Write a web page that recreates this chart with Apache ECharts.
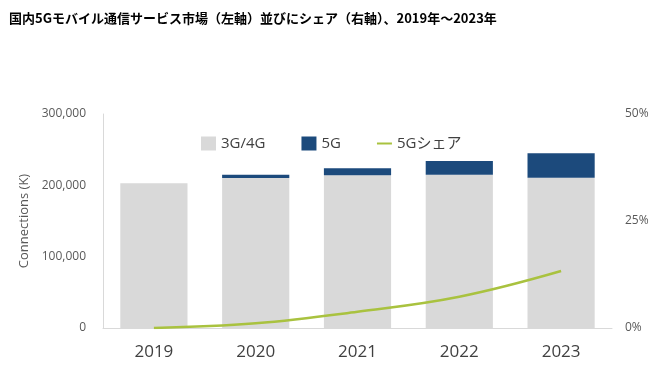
<!DOCTYPE html>
<html><head><meta charset="utf-8">
<script src="https://cdn.jsdelivr.net/npm/echarts@6/dist/echarts.min.js"></script>
<style>html,body{margin:0;padding:0;background:#fff}#c{width:662px;height:390px}</style>
</head><body><div id="c"></div>
<script>
var categories = ['2019','2020','2021','2022','2023'];
var legacy = [203000, 210300, 214000, 214900, 210700];
var fiveG = [0, 4600, 9800, 19200, 34200];
var share = [0, 1.1, 3.8, 7.3, 13.3];
var leftTicks = [0, 100000, 200000, 300000];
var rightTicks = [0, 25, 50];

var chart = echarts.init(document.getElementById('c'));
chart.setOption({
  animation: false,
  title: {
    text: '国内5Gモバイル通信サービス市場（左軸）並びにシェア（右軸）、2019年～2023年',
    left: 4, top: 7,
    textStyle: {fontFamily: 'Noto Sans CJK JP', fontSize: 13, fontWeight: 'bold', color: '#000'}
  },
  legend: {
    top: 131, left: 196, itemGap: 36, itemWidth: 15, itemHeight: 14,
    textStyle: {fontFamily: 'Open Sans, Noto Sans CJK JP', fontSize: 15, color: '#404040'},
    data: [
      {name: '3G/4G', icon: 'rect'},
      {name: '5G', icon: 'rect'},
      {name: '5Gシェア', icon: 'path://M0,0L0,0M0,6L15,6L15,8L0,8ZM15,14L15,14'}
    ]
  },
  grid: {left: 103, right: 50, top: 114, bottom: 62},
  xAxis: {
    type: 'category', data: categories,
    axisLine: {lineStyle: {color: '#d9d9d9', width: 1}},
    axisTick: {show: false},
    axisLabel: {fontFamily: 'Open Sans', fontSize: 17, color: '#404040', margin: 16}
  },
  yAxis: [{
    type: 'value', min: 0, max: 300000, interval: 100000,
    name: 'Connections (K)', nameLocation: 'middle', nameGap: 72,
    nameTextStyle: {fontFamily: 'Open Sans', fontSize: 13, color: '#595959'},
    axisLine: {show: true, lineStyle: {color: '#d9d9d9'}},
    axisTick: {show: false},
    splitLine: {show: false},
    axisLabel: {fontFamily: 'Open Sans', fontSize: 12, color: '#595959', margin: 17,
      formatter: function(v){ return v.toLocaleString('en-US'); }}
  }, {
    type: 'value', min: 0, max: 50, interval: 25,
    axisLine: {show: false}, axisTick: {show: false}, splitLine: {show: false},
    axisLabel: {fontFamily: 'Open Sans', fontSize: 12, color: '#595959', margin: 13,
      formatter: '{value}%'}
  }],
  series: [
    {name: '3G/4G', type: 'bar', stack: 'a', data: legacy, barWidth: '66%',
     itemStyle: {color: '#d9d9d9'}},
    {name: '5G', type: 'bar', stack: 'a', data: fiveG,
     itemStyle: {color: '#1c4a7c'}},
    {name: '5Gシェア', type: 'line', yAxisIndex: 1, data: share, smooth: 0.4,
     symbol: 'none', lineStyle: {color: '#a9c23f', width: 2.5},
     itemStyle: {color: '#a9c23f'}}
  ]
});
</script></body></html>
